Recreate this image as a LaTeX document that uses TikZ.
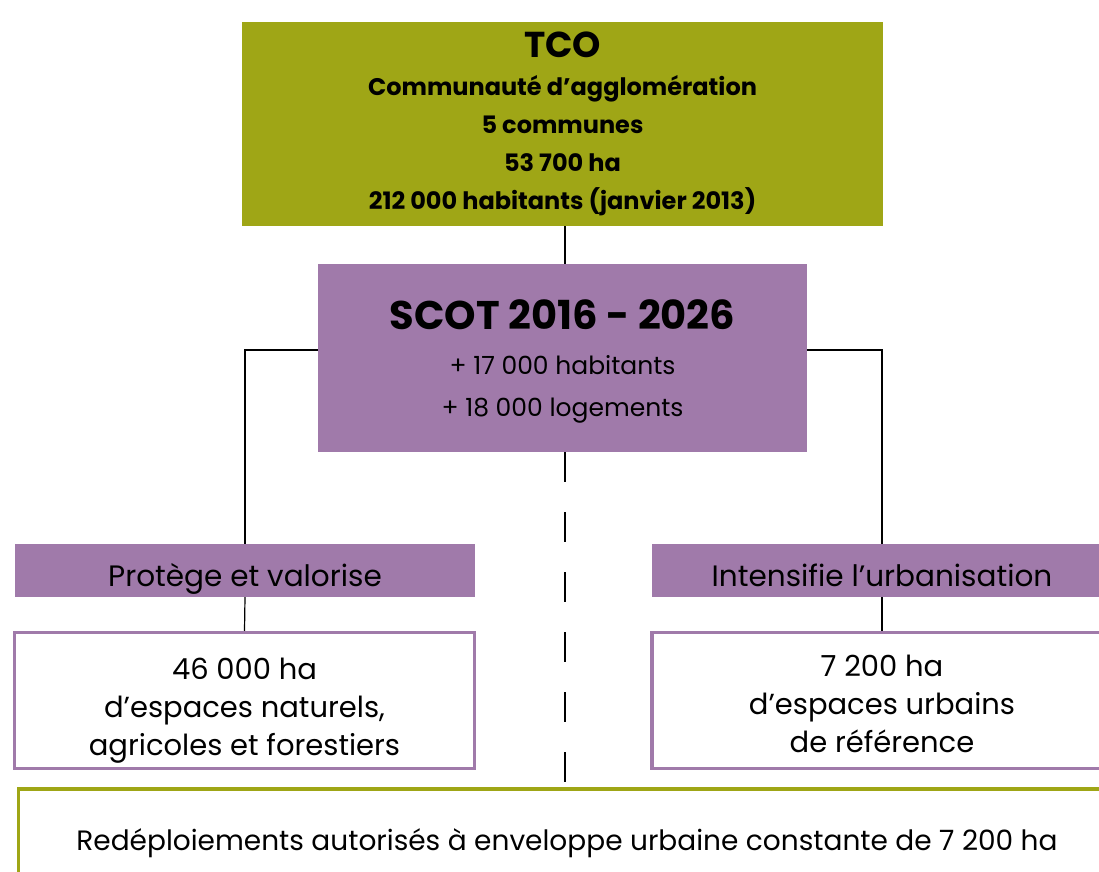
\documentclass[tikz,border=0pt]{standalone}
\usepackage{fontspec}
\setmainfont{Poppins}
\definecolor{olive}{RGB}{159,166,22}
\definecolor{mauve}{RGB}{160,122,170}
\tikzset{
  filled/.style={fill=#1, draw=none, inner sep=0pt, align=center},
  framed/.style={draw=#1, line width=3.2pt, fill=white, inner sep=0pt, align=center},
  link/.style={draw=black, line width=1.2pt},
  dashlink/.style={draw=black, line width=2pt, dash pattern=on 30pt off 30pt},
}
\begin{document}
\begin{tikzpicture}[x=1pt, y=-1pt]
\useasboundingbox (0,0) rectangle (1099,871);
\clip (0,0) rectangle (1099,871);
\fill[white] (0,0) rectangle (1099,871);
% TCO
\node[filled=olive, minimum width=641pt, minimum height=204pt,
      font=\fontsize{24}{38}\selectfont\bfseries] (tco) at (562.5,124)
  {{\fontsize{36}{40}\selectfont TCO}\\
   Communauté d’agglomération\\
   5 communes\\
   53 700 ha\\
   212 000 habitants (janvier 2013)};
% SCOT
\node[filled=mauve, minimum width=489pt, minimum height=188pt, text depth=0pt,
      font=\fontsize{25}{42}\selectfont] (scot) at (562.5,358)
  {{\fontsize{40}{44}\selectfont\bfseries SCOT 2016 - 2026}\\[3pt]
   + 17 000 habitants\\
   + 18 000 logements};
% level 2
\node[filled=mauve, minimum width=460pt, minimum height=53pt,
      text height=31pt, text depth=0pt,
      font=\fontsize{29.5}{34}\selectfont] (prot) at (245,570.5)
  {Protège et valorise};
\node[filled=mauve, minimum width=460pt, minimum height=53pt,
      text height=31pt, text depth=0pt,
      font=\fontsize{29.5}{34}\selectfont] (inte) at (882,570.5)
  {Intensifie l’urbanisation};
% level 3
\node[framed=mauve, minimum width=460pt, minimum height=136pt,
      text height=109pt, text depth=0pt,
      font=\fontsize{29}{38}\selectfont] (nat) at (244.5,700.5)
  {46 000 ha\\ d’espaces naturels,\\ agricoles et forestiers};
\node[framed=mauve, minimum width=460pt, minimum height=136pt,
      text height=103pt, text depth=0pt,
      font=\fontsize{29}{38}\selectfont] (urb) at (882,700.5)
  {7 200 ha\\ d’espaces urbains\\ de référence};
% bottom
\node[framed=olive, minimum width=1097pt, minimum height=100pt,
      text height=22pt, text depth=0pt,
      font=\fontsize{28}{34}\selectfont] (env) at (567,839)
  {Redéploiements autorisés à enveloppe urbaine constante de 7 200 ha};
% connectors
\draw[link] ([xshift=2.5pt]tco.south) -- ([xshift=2.5pt]scot.north);
\draw[link] ([yshift=8pt]scot.west) -| (prot.north);
\draw[link] ([yshift=8pt]scot.east) -| (inte.north);
\draw[link] (prot.south) -- (nat.north);
\draw[link] (inte.south) -- (urb.north);
\draw[dashlink] ([xshift=2.5pt]scot.south) -- ([xshift=2.5pt]scot.south |- env.north);
\end{tikzpicture}
\end{document}
